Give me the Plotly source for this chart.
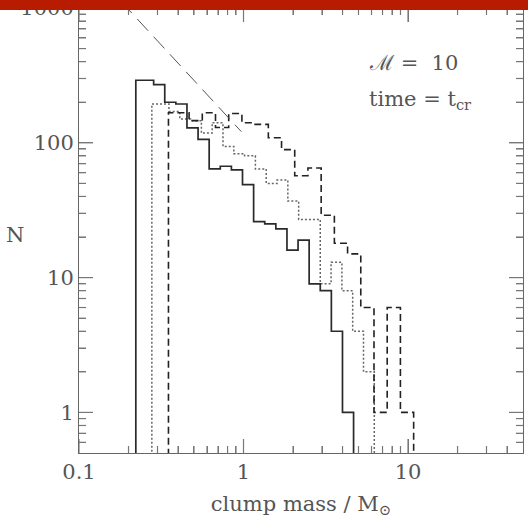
import math
import plotly.graph_objects as go

# ---------------- data ----------------
# solid histogram: bin edges (M_sun) and counts
solid_edges = [0.2215, 0.2843, 0.3321, 0.3879, 0.4532, 0.5294, 0.6184, 0.7226, 0.8441,
               0.986, 1.152, 1.346, 1.572, 1.837, 2.146, 2.506, 2.928, 3.420, 3.996, 4.668]
solid_counts = [291, 270, 200, 194, 129, 106, 64, 67, 63, 49, 26, 25, 23, 16, 19, 9, 8, 4, 1]

# dotted histogram
dotted_edges = [0.2772, 0.3522, 0.4097, 0.4769, 0.5546, 0.6450, 0.7503, 0.8730, 1.0155,
                1.181, 1.374, 1.599, 1.860, 2.164, 2.517, 2.928, 3.406, 3.963, 4.609,
                5.362, 6.237]
dotted_counts = [194, 171, 150, 146, 118, 141, 94, 83, 80, 64, 50, 53, 37, 27, 27, 9, 13,
                 8, 4, 2]

# dashed histogram
dashed_edges = [0.3498, 0.4668, 0.5616, 0.6757, 0.8128, 0.9779, 1.1765, 1.4156, 1.703,
                2.048, 2.464, 2.965, 3.567, 4.291, 5.163, 6.211, 7.472, 8.990, 10.82]
dashed_counts = [167, 146, 167, 130, 165, 141, 137, 109, 89, 57, 65, 29, 18, 15, 6, 1, 6, 1]

# reference power-law line
ref_mass = [0.18, 0.97]
ref_N = [1120, 121]

x_tick_vals = [0.1, 1, 10]
y_tick_vals = [1, 10, 100, 1000]

X_MIN, X_MAX = 0.1, 50
Y_MIN, Y_MAX = 0.5, 1000
BASE = 0.05  # below the visible range (zero counts)

W, H = 528, 518
ML, MR, MT, MB = 79, 5, 8, 65
MAJOR_LEN, MINOR_LEN = 14, 7

FONT = "DejaVu Serif"
TXT = "#555555"
TICKC = "#777777"
FS = 21


def step_xy(edges, counts):
    xs = [edges[0]] + list(edges[:-1]) + [edges[-1]]
    ys = [BASE] + list(counts) + [BASE]
    return xs, ys


def minor_vals(lo, hi):
    vals = []
    d = 10 ** math.floor(math.log10(lo))
    while d < hi:
        for k in range(2, 10):
            v = k * d
            if lo < v < hi:
                vals.append(v)
        d *= 10
    return vals


fig = go.Figure()

for edges, counts, color, width, dash in [
    (dotted_edges, dotted_counts, "#666666", 1.5, "2px,2px"),
    (dashed_edges, dashed_counts, "#222222", 1.6, "7px,4px"),
    (solid_edges, solid_counts, "#2a2a2a", 1.7, "solid"),
]:
    xs, ys = step_xy(edges, counts)
    fig.add_trace(go.Scatter(x=xs, y=ys, mode="lines", line_shape="hv",
                             line=dict(color=color, width=width, dash=dash),
                             showlegend=False, hoverinfo="skip"))

fig.add_trace(go.Scatter(x=ref_mass, y=ref_N, mode="lines",
                         line=dict(color="#555555", width=1, dash="16px,8px"),
                         showlegend=False, hoverinfo="skip"))

# tick marks on all four sides, placed through the log axes
x_dec_px = (W - ML - MR) / (math.log10(X_MAX) - math.log10(X_MIN))
y_dec_px = (H - MT - MB) / (math.log10(Y_MAX) - math.log10(Y_MIN))
tx, ty = [], []
for vals, length in [(x_tick_vals, MAJOR_LEN), (minor_vals(X_MIN, X_MAX), MINOR_LEN)]:
    f = 10 ** (length / y_dec_px)
    for v in vals:
        tx += [v, v, None, v, v, None]
        ty += [Y_MIN, Y_MIN * f, None, Y_MAX, Y_MAX / f, None]
for vals, length in [(y_tick_vals, MAJOR_LEN), (minor_vals(Y_MIN, Y_MAX), MINOR_LEN)]:
    f = 10 ** (length / x_dec_px)
    for v in vals:
        tx += [X_MIN, X_MIN * f, None, X_MAX, X_MAX / f, None]
        ty += [v, v, None, v, v, None]
fig.add_trace(go.Scatter(x=tx, y=ty, mode="lines", line=dict(color=TICKC, width=1.2),
                         showlegend=False, hoverinfo="skip", connectgaps=False))

axis_common = dict(type="log", showgrid=False, showline=True, linecolor="#666",
                   mirror="ticks", ticks="inside", ticklen=MAJOR_LEN, tickcolor=TICKC,
                   ticklabeloverflow="allow", automargin=False, tickmode="array",
                   tickfont=dict(family=FONT, size=FS, color=TXT),
                   minor=dict(ticks="inside", ticklen=MINOR_LEN, tickcolor=TICKC,
                              dtick="D1"))

fig.update_xaxes(range=[math.log10(X_MIN), math.log10(X_MAX)], tickvals=x_tick_vals,
                 title=dict(text="clump mass / M<sub>⊙</sub>", standoff=14,
                            font=dict(family=FONT, size=FS, color=TXT)),
                 **axis_common)
fig.update_yaxes(range=[math.log10(Y_MIN), math.log10(Y_MAX)], tickvals=y_tick_vals,
                 **axis_common)

ann_font = dict(family=FONT, size=FS, color=TXT)
fig.add_annotation(text="N", xref="paper", yref="paper", x=-0.168, y=0.49,
                   showarrow=False, font=ann_font)
fig.add_annotation(text="ℳ =  10", xref="paper", yref="paper", x=0.649, y=0.908,
                   xanchor="left", showarrow=False, font=ann_font)
fig.add_annotation(text="time = t<sub>cr</sub>", xref="paper", yref="paper", x=0.649,
                   y=0.826, xanchor="left", showarrow=False, font=ann_font)

# red banner across the top of the image
fig.add_shape(type="rect", xref="paper", yref="paper", x0=-0.2, x1=1.05,
              y0=0.9955, y1=1.03, fillcolor="#b81c00", line=dict(width=0),
              layer="above")

fig.update_layout(width=W, height=H, margin=dict(l=ML, r=MR, t=MT, b=MB),
                  font=dict(family=FONT, size=FS, color=TXT),
                  paper_bgcolor="white", plot_bgcolor="white")

fig.write_html("out.html")
